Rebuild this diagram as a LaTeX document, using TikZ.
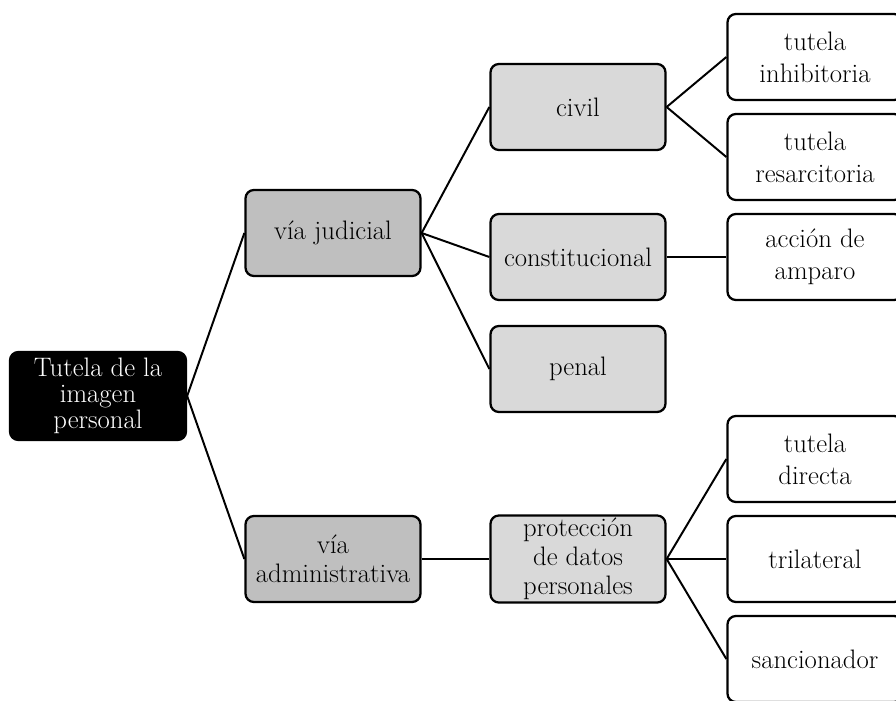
\documentclass[tikz,border=0pt]{standalone}
\usepackage{tikz}
\usetikzlibrary{positioning}
\definecolor{viagray}{HTML}{BFBFBF}
\definecolor{ramagray}{HTML}{D9D9D9}

\begin{document}
\begin{tikzpicture}[
    x=0.025cm, y=-0.025cm,
    box/.style={draw, line width=1.6pt, rounded corners=6pt, minimum width=4.375cm, minimum height=2.15cm, align=center, inner sep=2pt, font=\fontsize{19}{20.5}\selectfont},
    rootbox/.style={box, fill=black, text=white, minimum width=4.4cm, minimum height=2.2cm, font=\fontsize{19}{18.5}\selectfont},
    viabox/.style={box, fill=viagray},
    ramabox/.style={box, fill=ramagray},
    hojabox/.style={box, fill=white, font=\fontsize{19}{23}\selectfont},
    link/.style={line width=1.4pt},
]
\useasboundingbox (0,0) rectangle (896,700);

% Root
\node[rootbox] (tutela) at (98,396) {Tutela de la\\imagen\\personal};

% Second level: vias
\node[viabox] (judicial) at (333,233) {vía judicial};
\node[viabox] (admin) at (333,559) {vía\\administrativa};

% Third level
\node[ramabox] (civil) at (578,107) {civil};
\node[ramabox] (constit) at (578,257) {constitucional};
\node[ramabox] (penal) at (578,369) {penal};
\node[ramabox] (datos) at (578,559) {protección\\de datos\\personales};

% Leaves
\node[hojabox] (inhib) at (815,57) {tutela\\inhibitoria};
\node[hojabox] (resarc) at (815,157) {tutela\\resarcitoria};
\node[hojabox] (amparo) at (815,257) {acción de\\amparo};
\node[hojabox] (directa) at (815,459) {tutela\\directa};
\node[hojabox] (trilat) at (815,559) {trilateral};
\node[hojabox] (sancion) at (815,659) {sancionador};

% Connectors
\draw[link] (tutela.east) -- (judicial.west);
\draw[link] (tutela.east) -- (admin.west);
\draw[link] (judicial.east) -- (civil.west);
\draw[link] (judicial.east) -- (constit.west);
\draw[link] (judicial.east) -- (penal.west);
\draw[link] (admin.east) -- (datos.west);
\draw[link] (civil.east) -- (inhib.west);
\draw[link] (civil.east) -- (resarc.west);
\draw[link] (constit.east) -- (amparo.west);
\draw[link] (datos.east) -- (directa.west);
\draw[link] (datos.east) -- (trilat.west);
\draw[link] (datos.east) -- (sancion.west);
\end{tikzpicture}
\end{document}
